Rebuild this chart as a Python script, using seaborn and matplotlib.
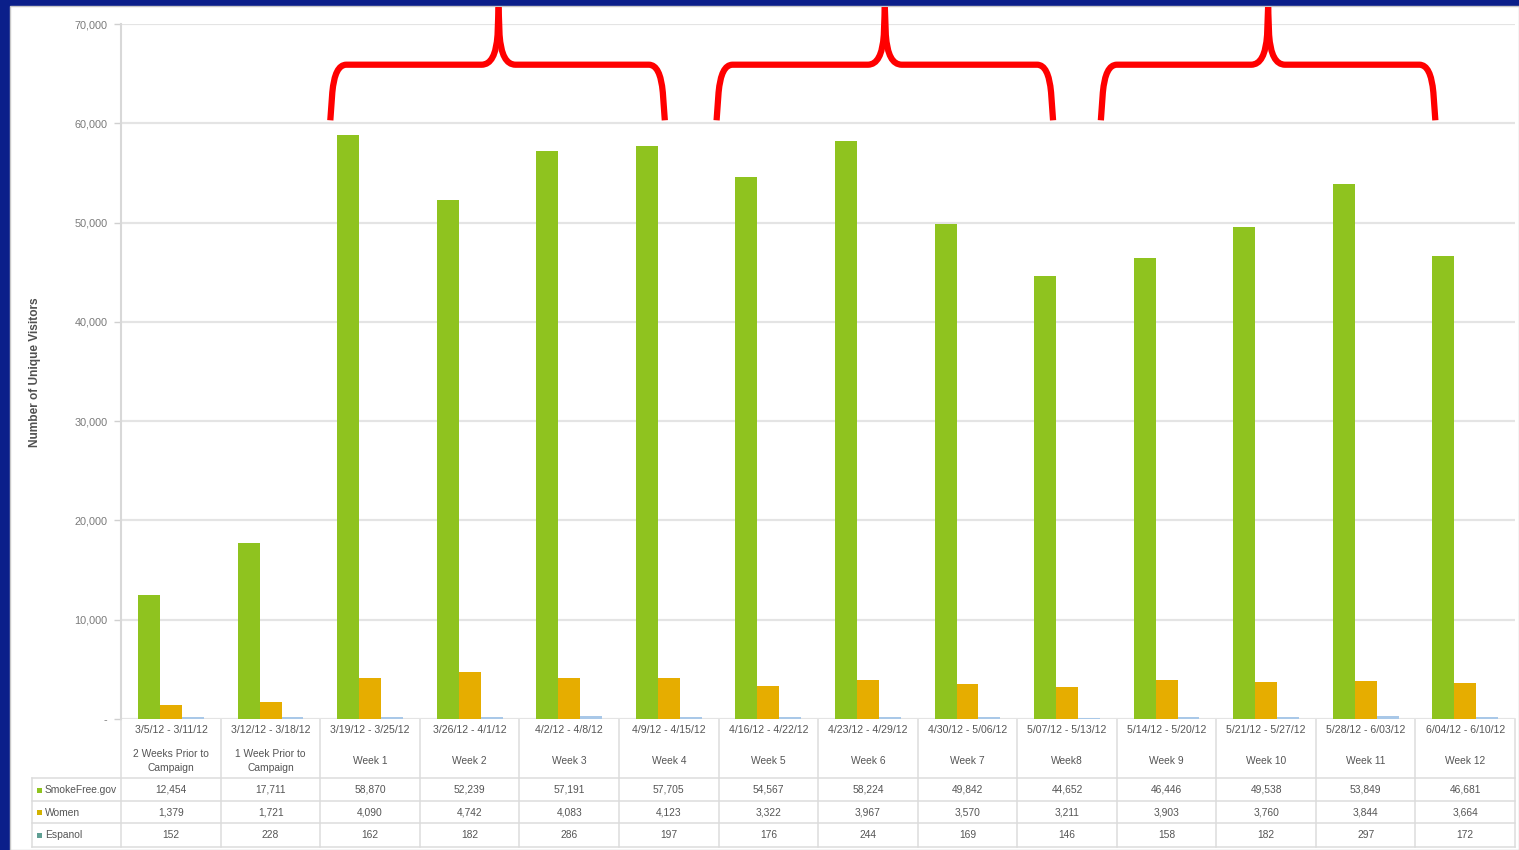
import matplotlib
matplotlib.use("Agg")
import matplotlib.pyplot as plt
import seaborn as sns
import pandas as pd
from matplotlib.path import Path
from matplotlib.patches import PathPatch, Rectangle
from matplotlib.transforms import blended_transform_factory
from matplotlib.lines import Line2D

# ---------------- data ----------------
date_ranges = ["3/5/12 - 3/11/12", "3/12/12 - 3/18/12", "3/19/12 - 3/25/12",
               "3/26/12 - 4/1/12", "4/2/12 - 4/8/12", "4/9/12 - 4/15/12",
               "4/16/12 - 4/22/12", "4/23/12 - 4/29/12", "4/30/12 - 5/06/12",
               "5/07/12 - 5/13/12", "5/14/12 - 5/20/12", "5/21/12 - 5/27/12",
               "5/28/12 - 6/03/12", "6/04/12 - 6/10/12"]
period_labels = ["2 Weeks Prior to\nCampaign", "1 Week Prior to\nCampaign",
                 "Week 1", "Week 2", "Week 3", "Week 4", "Week 5", "Week 6",
                 "Week 7", "Week8", "Week 9", "Week 10", "Week 11", "Week 12"]
series_names = ["SmokeFree.gov", "Women", "Espanol"]
smokefree = [12454, 17711, 58870, 52239, 57191, 57705, 54567, 58224,
             49842, 44652, 46446, 49538, 53849, 46681]
women = [1379, 1721, 4090, 4742, 4083, 4123, 3322, 3967,
         3570, 3211, 3903, 3760, 3844, 3664]
espanol = [152, 228, 162, 182, 286, 197, 176, 244,
           169, 146, 158, 182, 297, 172]
y_ticks = [0, 10000, 20000, 30000, 40000, 50000, 60000, 70000]
y_tick_labels = ["-", "10,000", "20,000", "30,000", "40,000", "50,000",
                 "60,000", "70,000"]
y_label = "Number of Unique Visitors"

colors = ["#8fc31f", "#e6ad00", "#a9c8e8"]
legend_key_colors = ["#8fc31f", "#d2b200", "#5f9f93"]

df = pd.DataFrame({
    "period": date_ranges * 3,
    "series": [s for s in series_names for _ in date_ranges],
    "visitors": smokefree + women + espanol,
})

# ---------------- figure ----------------
W, H = 1519, 850
fig = plt.figure(figsize=(W / 100, H / 100), dpi=100)
fig.patch.set_facecolor("#0b1f8a")
plt.rcParams["font.family"] = ["Liberation Sans", "DejaVu Sans"]

# white slide panel
fig.patches.append(Rectangle((10 / W, 0), 1 - 10 / W, (H - 6) / H,
                             transform=fig.transFigure, facecolor="white",
                             edgecolor="#c8c8c8", linewidth=1, zorder=-5))

def fx(px):
    return px / W

def fy(py):
    return 1 - py / H

x_left, x_right = 121.25, 1515.0
y_zero, y_top = 719.0, 24.0
ax = fig.add_axes([fx(x_left), fy(y_zero), fx(x_right) - fx(x_left),
                   fy(y_top) - fy(y_zero)])
ax.set_facecolor("none")
ax.set_zorder(2)

sns.barplot(data=df, x="period", y="visitors", hue="series",
            order=date_ranges, hue_order=series_names, palette=colors,
            width=0.66, saturation=1, legend=False, ax=ax, zorder=3)

ax.set_xlim(-0.5, len(date_ranges) - 0.5)
ax.set_ylim(0, 70000)
ax.set_yticks(y_ticks)
ax.set_yticklabels(y_tick_labels, fontsize=7.8, color="#7a7a7a")
ax.set_xticks(range(len(date_ranges)))
ax.set_xticklabels([])
ax.tick_params(axis="x", length=0)
ax.tick_params(axis="y", length=5, color="#d0d0d0", width=1, pad=5)
ax.set_xlabel("")
ax.set_ylabel("")
ax.grid(axis="y", color="#e4e4e4", linewidth=1.6, zorder=0)
ax.set_axisbelow(True)
for side in ["top", "right", "bottom"]:
    ax.spines[side].set_visible(False)
ax.spines["left"].set_color("#d8d8d8")
ax.spines["left"].set_linewidth(1.5)

fig.text(fx(35), fy(372), y_label, rotation=90, ha="center", va="center",
         fontsize=8.6, fontweight="bold", color="#505050")

# ---------------- data table below ----------------
tr = blended_transform_factory(ax.transData, fig.transFigure)
line_col = "#dcdcdc"
txt_col = "#555555"
n = len(date_ranges)

for i in range(n):
    ax.text(i, fy(730), date_ranges[i], transform=tr, ha="center",
            va="center", fontsize=7.6, color=txt_col, clip_on=False)
    ax.text(i, fy(761), period_labels[i], transform=tr, ha="center",
            va="center", fontsize=7.4, color=txt_col, linespacing=1.55,
            clip_on=False)
    for r, vals in enumerate([smokefree, women, espanol]):
        ax.text(i, fy(790 + 22.5 * r), f"{vals[i]:,}", transform=tr,
                ha="center", va="center", fontsize=7.4, color=txt_col,
                clip_on=False)

# vertical separators
for b in range(n + 1):
    fig.add_artist(Line2D([b - 0.5, b - 0.5], [fy(719), fy(847)],
                          transform=tr, color=line_col, linewidth=1.1))
# horizontal separators
for py in [778, 801, 823, 847]:
    fig.add_artist(Line2D([fx(32), fx(x_right)], [fy(py), fy(py)],
                          transform=fig.transFigure, color=line_col,
                          linewidth=1.1))
fig.add_artist(Line2D([fx(32), fx(32)], [fy(778), fy(847)],
                      transform=fig.transFigure, color=line_col,
                      linewidth=1.1))
# legend keys in table
for r, name in enumerate(series_names):
    yy = fy(790 + 22.5 * r)
    fig.patches.append(Rectangle((fx(37), yy - 2.5 / H), 5 / W, 5 / H,
                                 transform=fig.transFigure,
                                 facecolor=legend_key_colors[r],
                                 edgecolor="none"))
    fig.text(fx(45), yy, name, ha="left", va="center", fontsize=7.4,
             color=txt_col)

# ---------------- red braces (annotation) ----------------
def brace(x0, x1, xm, yb=60300, yh=65900, yt=71700):
    dx = 0.16
    codes = [Path.MOVETO, Path.LINETO, Path.CURVE3, Path.CURVE3,
             Path.LINETO, Path.CURVE3, Path.CURVE3, Path.LINETO]
    for s, xe in ((1, x0), (-1, x1)):
        pts = [(xe, yb), (xe + s * 0.02, yh - 2800), (xe + s * 0.045, yh),
               (xe + s * dx, yh), (xm - s * 0.17, yh), (xm - s * 0.03, yh),
               (xm - s * 0.01, yh + 3000), (xm, yt)]
        ax.add_patch(PathPatch(Path(pts, codes), facecolor="none",
                               edgecolor="#ff0000", linewidth=4.5,
                               capstyle="butt", joinstyle="round",
                               clip_on=False, zorder=6))

brace(1.60, 4.96, 3.29)
brace(5.48, 8.86, 7.17)
brace(9.34, 12.70, 11.02)

fig.savefig("out.png", dpi=100, facecolor=fig.get_facecolor())
